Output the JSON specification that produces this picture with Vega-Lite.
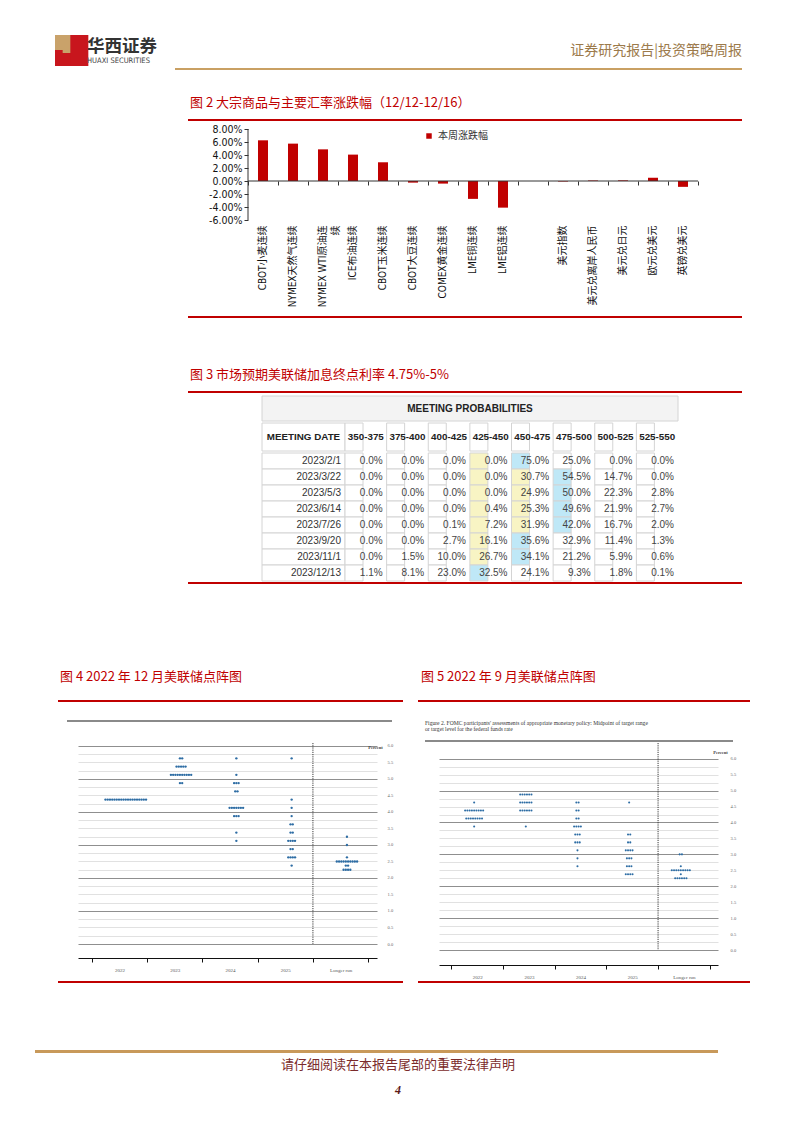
{
"$schema":"https://vega.github.io/schema/vega-lite/v6.json",
"background":"white",
"padding":0,
"spacing":0,
"config":{"view":{"stroke":null},"font":"Noto Sans CJK SC","concat":{"spacing":0}},
"resolve":{"scale":{"color":"independent","fill":"independent"},"legend":{"color":"independent","fill":"independent"}},
"vconcat":[
{"width":1,"height":35,"data":{"values":[]},"mark":"point"},
{"hconcat":[
 {"width":55,"height":33,"data":{"values":[]},"mark":"point"},
 {"width":23,"height":31,"data":{"values":[{"c":"a","k":"red","v":16,"o":1},{"c":"a","k":"gold","v":15,"o":2},{"c":"b","k":"none","v":13,"o":1},{"c":"b","k":"gold","v":6,"o":2},{"c":"c","k":"red","v":31,"o":1}]},
  "mark":{"type":"bar"},
  "encoding":{"x":{"field":"c","type":"nominal","axis":null,"scale":{"paddingInner":0,"paddingOuter":0}},
   "y":{"field":"v","type":"quantitative","stack":"zero","axis":null,"scale":{"domain":[0,31],"nice":false}},
   "color":{"field":"k","type":"nominal","legend":null,"scale":{"domain":["red","gold","none"],"range":["#c8161d","#c9a26a","rgba(255,255,255,0)"]}},
   "order":{"field":"o"}}},
 {"width":9,"height":0,"data":{"values":[]},"mark":"point"},
 {"width":655,"height":33,"layer":[
  {"data":{"values":[{"t":"华西证券"}]},"mark":{"type":"text","align":"left","baseline":"middle","fontSize":17.5,"fontWeight":"bold","color":"#333333"},
   "encoding":{"text":{"field":"t"},"x":{"datum":0,"type":"quantitative","scale":{"domain":[0,1]},"axis":null},"y":{"datum":0.636,"type":"quantitative","scale":{"domain":[0,1]},"axis":null}}},
  {"data":{"values":[{"t":"HUAXI SECURITIES"}]},"mark":{"type":"text","align":"left","baseline":"middle","fontSize":7.5,"font":"DejaVu Sans Condensed, sans-serif","color":"#444444"},
   "encoding":{"text":{"field":"t"},"x":{"datum":0,"type":"quantitative","scale":{"domain":[0,1]},"axis":null},"y":{"datum":0.227,"type":"quantitative","scale":{"domain":[0,1]},"axis":null}}},
  {"data":{"values":[{"t":"证券研究报告|投资策略周报"}]},"mark":{"type":"text","align":"right","baseline":"middle","fontSize":14,"color":"#9c7a4b"},
   "encoding":{"text":{"field":"t"},"x":{"datum":1,"type":"quantitative","scale":{"domain":[0,1]},"axis":null},"y":{"datum":0.515,"type":"quantitative","scale":{"domain":[0,1]},"axis":null}}}]}
],"bounds":"flush","spacing":0},
{"hconcat":[{"width":175,"height":26,"data":{"values":[]},"mark":"point"},{"width":567,"height":2,"data":{"values":[{}]},"mark":{"type":"rect","color":"#c9a063"},"encoding":{}}],"bounds":"flush","spacing":0},
{"hconcat":[{"width":190,"height":25,"data":{"values":[]},"mark":"point"},
 {"width":400,"height":18,"data":{"values":[{"t":"图 2 大宗商品与主要汇率涨跌幅（12/12-12/16）"}]},"mark":{"type":"text","align":"left","baseline":"middle","fontSize":13,"color":"#c00000"},
  "encoding":{"text":{"field":"t"},"x":{"datum":0,"type":"quantitative","scale":{"domain":[0,1]},"axis":null},"y":{"datum":0.5,"type":"quantitative","scale":{"domain":[0,1]},"axis":null}}}],"bounds":"flush","spacing":0},
{"hconcat":[{"width":188,"height":3,"data":{"values":[]},"mark":"point"},{"width":554,"height":2,"data":{"values":[{}]},"mark":{"type":"rect","color":"#c00000"},"encoding":{}}],"bounds":"flush","spacing":0},
{"hconcat":[
 {"width":248,"height":194,"data":{"values":[]},"mark":"point"},
 {"width":450,"height":98,
  "data":{"values":[
   {"n":"CBOT小麦连续","v":0.0626,"s":"本周涨跌幅"},
   {"n":"NYMEX天然气连续","v":0.0575,"s":"本周涨跌幅"},
   {"n":"NYMEX WTI原油连续","v":0.0487,"s":"本周涨跌幅"},
   {"n":"ICE布油连续","v":0.0406,"s":"本周涨跌幅"},
   {"n":"CBOT玉米连续","v":0.0288,"s":"本周涨跌幅"},
   {"n":"CBOT大豆连续","v":-0.0025,"s":"本周涨跌幅"},
   {"n":"COMEX黄金连续","v":-0.004,"s":"本周涨跌幅"},
   {"n":"LME铜连续","v":-0.0275,"s":"本周涨跌幅"},
   {"n":"LME铝连续","v":-0.041,"s":"本周涨跌幅"},
   {"n":"美元指数","v":-0.0008,"s":"本周涨跌幅"},
   {"n":"美元兑离岸人民币","v":0.0008,"s":"本周涨跌幅"},
   {"n":"美元兑日元","v":0.001,"s":"本周涨跌幅"},
   {"n":"欧元兑美元","v":0.005,"s":"本周涨跌幅"},
   {"n":"英镑兑美元","v":-0.009,"s":"本周涨跌幅"}]},
  "layer":[
   {"mark":{"type":"bar","size":10},
    "encoding":{
     "x":{"field":"n","type":"nominal","sort":null,"scale":{"domain":["CBOT小麦连续","NYMEX天然气连续","NYMEX WTI原油连续","ICE布油连续","CBOT玉米连续","CBOT大豆连续","COMEX黄金连续","LME铜连续","LME铝连续"," ","美元指数","美元兑离岸人民币","美元兑日元","欧元兑美元","英镑兑美元"],"paddingInner":0,"paddingOuter":0},
      "axis":{"title":null,"domain":false,"ticks":false,"labelAngle":-90,"labelPadding":5,"labelFont":"Liberation Sans Narrow, DejaVu Sans Condensed, Noto Sans CJK SC, sans-serif","labelFontSize":10,"labelColor":"#111111","labelLineHeight":13,"labelLimit":200,
       "labelExpr":"datum.label == 'NYMEX WTI原油连续' ? ['NYMEX WTI原油连', '续'] : datum.label"}},
     "y":{"field":"v","type":"quantitative","stack":null,"scale":{"domain":[-0.06,0.09077],"nice":false},
      "axis":{"title":null,"tickCount":8,"grid":false,"domain":false,"labelOverlap":false,"labelExpr":"replace(format(datum.value, '.2%'), '\u2212', '-')","tickColor":"#333333","tickSize":4,"labelFont":"Liberation Sans Narrow, DejaVu Sans Condensed, sans-serif","labelFontSize":10.5,"labelColor":"#111111","labelPadding":2}},
     "color":{"field":"s","type":"nominal","scale":{"domain":["本周涨跌幅"],"range":["#c00000"]},
      "legend":{"orient":"none","legendX":424,"legendY":9,"title":null,"symbolType":"square","symbolSize":30,"labelFontSize":10,"labelColor":"#333333"}}}},
   {"data":{"values":[{}]},"mark":{"type":"rule","color":"#333333","strokeWidth":1},"encoding":{"y":{"datum":0,"type":"quantitative"}}},
   {"data":{"values":[{}]},"mark":{"type":"rule","color":"#333333","strokeWidth":1},
    "encoding":{"x":{"datum":"CBOT小麦连续","type":"nominal","bandPosition":0,"axis":null},"y":{"datum":-0.06,"type":"quantitative"},"y2":{"datum":0.08}}},
   {"mark":{"type":"bar","size":10,"opacity":0},
    "encoding":{
     "x":{"field":"n","type":"nominal","sort":null,"axis":{"title":null,"orient":"bottom","offset":-39,"labels":false,"domain":false,"tickBand":"extent","tickSize":4,"tickColor":"#333333"}},
     "y":{"field":"v","type":"quantitative","stack":null}}}
  ],
  "resolve":{"axis":{"x":"independent"}}}
],"bounds":"flush","spacing":0},
{"hconcat":[{"width":188,"height":50,"data":{"values":[]},"mark":"point"},{"width":554,"height":2,"data":{"values":[{}]},"mark":{"type":"rect","color":"#c00000"},"encoding":{}}],"bounds":"flush","spacing":0},
{"hconcat":[{"width":190,"height":25,"data":{"values":[]},"mark":"point"},
 {"width":400,"height":18,"data":{"values":[{"t":"图 3 市场预期美联储加息终点利率 4.75%-5%"}]},"mark":{"type":"text","align":"left","baseline":"middle","fontSize":13,"color":"#c00000"},
  "encoding":{"text":{"field":"t"},"x":{"datum":0,"type":"quantitative","scale":{"domain":[0,1]},"axis":null},"y":{"datum":0.5,"type":"quantitative","scale":{"domain":[0,1]},"axis":null}}}],"bounds":"flush","spacing":0},
{"hconcat":[{"width":188,"height":4,"data":{"values":[]},"mark":"point"},{"width":554,"height":2,"data":{"values":[{}]},"mark":{"type":"rect","color":"#c00000"},"encoding":{}}],"bounds":"flush","spacing":0},
{"hconcat":[{"width":262,"height":25,"data":{"values":[]},"mark":"point"},
 {"width":416,"height":25,"data":{"values":[{"t":"MEETING PROBABILITIES"}]},"layer":[
  {"mark":{"type":"rect","fill":"#f3f3f3","stroke":"#d4d4d4","strokeWidth":1},"encoding":{}},
  {"mark":{"type":"text","font":"Liberation Sans, Arial, sans-serif","fontWeight":"bold","fontSize":10,"color":"#222222","align":"center","baseline":"middle"},
   "encoding":{"text":{"field":"t"},"x":{"datum":0.5,"type":"quantitative","scale":{"domain":[0,1]},"axis":null},"y":{"datum":0.5,"type":"quantitative","scale":{"domain":[0,1]},"axis":null}}}]}
],"bounds":"flush","spacing":0},
{"hconcat":[{"width":262,"height":28,"data":{"values":[]},"mark":"point"},
 {"width":83,"height":28,"data":{"values":[{"t":"MEETING DATE"}]},"layer":[
  {"mark":{"type":"rect","fill":"#ffffff","stroke":"#d4d4d4","strokeWidth":1},"encoding":{}},
  {"mark":{"type":"text","font":"Liberation Sans, Arial, sans-serif","fontWeight":"bold","fontSize":9.8,"color":"#222222","align":"center","baseline":"middle"},
   "encoding":{"text":{"field":"t"},"x":{"datum":0.5,"type":"quantitative","scale":{"domain":[0,1]},"axis":null},"y":{"datum":0.5,"type":"quantitative","scale":{"domain":[0,1]},"axis":null}}}]},
 {"width":333,"height":28,"data":{"values":[{"r":"350-375"},{"r":"375-400"},{"r":"400-425"},{"r":"425-450"},{"r":"450-475"},{"r":"475-500"},{"r":"500-525"},{"r":"525-550"}]},"layer":[
  {"mark":{"type":"rect","fill":"#ffffff","stroke":"#d4d4d4","strokeWidth":1},"encoding":{"x":{"field":"r","type":"nominal","sort":null,"axis":null,"scale":{"paddingInner":0,"paddingOuter":0}}}},
  {"mark":{"type":"text","font":"Liberation Sans, Arial, sans-serif","fontWeight":"bold","fontSize":9.8,"color":"#222222","align":"center","baseline":"middle"},
   "encoding":{"text":{"field":"r"},"x":{"field":"r","type":"nominal","sort":null},"y":{"datum":0.5,"type":"quantitative","scale":{"domain":[0,1]},"axis":null}}}]}
],"bounds":"flush","spacing":0},
{"hconcat":[{"width":262,"height":128,"data":{"values":[]},"mark":"point"},
 {"width":83,"height":128,"data":{"values":[{"d":"2023/2/1"},{"d":"2023/3/22"},{"d":"2023/5/3"},{"d":"2023/6/14"},{"d":"2023/7/26"},{"d":"2023/9/20"},{"d":"2023/11/1"},{"d":"2023/12/13"}]},"layer":[
  {"mark":{"type":"rect","fill":"#ffffff","stroke":"#d4d4d4","strokeWidth":1},"encoding":{"y":{"field":"d","type":"nominal","sort":null,"axis":null,"scale":{"paddingInner":0,"paddingOuter":0}}}},
  {"mark":{"type":"text","font":"Liberation Sans, Arial, sans-serif","fontSize":10,"color":"#333333","align":"right","baseline":"middle","dx":-4},
   "encoding":{"text":{"field":"d"},"y":{"field":"d","type":"nominal","sort":null},"x":{"datum":1,"type":"quantitative","scale":{"domain":[0,1]},"axis":null}}}]},
 {"width":333,"height":128,"data":{"values":[
  {"d":"2023/2/1","r":"350-375","p":0,"h":"n"},{"d":"2023/2/1","r":"375-400","p":0,"h":"n"},{"d":"2023/2/1","r":"400-425","p":0,"h":"n"},{"d":"2023/2/1","r":"425-450","p":0,"h":"c"},{"d":"2023/2/1","r":"450-475","p":0.75,"h":"m"},{"d":"2023/2/1","r":"475-500","p":0.25,"h":"n"},{"d":"2023/2/1","r":"500-525","p":0,"h":"n"},{"d":"2023/2/1","r":"525-550","p":0,"h":"n"},
  {"d":"2023/3/22","r":"350-375","p":0,"h":"n"},{"d":"2023/3/22","r":"375-400","p":0,"h":"n"},{"d":"2023/3/22","r":"400-425","p":0,"h":"n"},{"d":"2023/3/22","r":"425-450","p":0,"h":"c"},{"d":"2023/3/22","r":"450-475","p":0.307,"h":"c"},{"d":"2023/3/22","r":"475-500","p":0.545,"h":"m"},{"d":"2023/3/22","r":"500-525","p":0.147,"h":"n"},{"d":"2023/3/22","r":"525-550","p":0,"h":"n"},
  {"d":"2023/5/3","r":"350-375","p":0,"h":"n"},{"d":"2023/5/3","r":"375-400","p":0,"h":"n"},{"d":"2023/5/3","r":"400-425","p":0,"h":"n"},{"d":"2023/5/3","r":"425-450","p":0,"h":"c"},{"d":"2023/5/3","r":"450-475","p":0.249,"h":"c"},{"d":"2023/5/3","r":"475-500","p":0.5,"h":"m"},{"d":"2023/5/3","r":"500-525","p":0.223,"h":"n"},{"d":"2023/5/3","r":"525-550","p":0.028,"h":"n"},
  {"d":"2023/6/14","r":"350-375","p":0,"h":"n"},{"d":"2023/6/14","r":"375-400","p":0,"h":"n"},{"d":"2023/6/14","r":"400-425","p":0,"h":"n"},{"d":"2023/6/14","r":"425-450","p":0.004,"h":"c"},{"d":"2023/6/14","r":"450-475","p":0.253,"h":"c"},{"d":"2023/6/14","r":"475-500","p":0.496,"h":"m"},{"d":"2023/6/14","r":"500-525","p":0.219,"h":"n"},{"d":"2023/6/14","r":"525-550","p":0.027,"h":"n"},
  {"d":"2023/7/26","r":"350-375","p":0,"h":"n"},{"d":"2023/7/26","r":"375-400","p":0,"h":"n"},{"d":"2023/7/26","r":"400-425","p":0.001,"h":"n"},{"d":"2023/7/26","r":"425-450","p":0.072,"h":"c"},{"d":"2023/7/26","r":"450-475","p":0.319,"h":"c"},{"d":"2023/7/26","r":"475-500","p":0.42,"h":"m"},{"d":"2023/7/26","r":"500-525","p":0.167,"h":"n"},{"d":"2023/7/26","r":"525-550","p":0.02,"h":"n"},
  {"d":"2023/9/20","r":"350-375","p":0,"h":"n"},{"d":"2023/9/20","r":"375-400","p":0,"h":"n"},{"d":"2023/9/20","r":"400-425","p":0.027,"h":"n"},{"d":"2023/9/20","r":"425-450","p":0.161,"h":"c"},{"d":"2023/9/20","r":"450-475","p":0.356,"h":"m"},{"d":"2023/9/20","r":"475-500","p":0.329,"h":"n"},{"d":"2023/9/20","r":"500-525","p":0.114,"h":"n"},{"d":"2023/9/20","r":"525-550","p":0.013,"h":"n"},
  {"d":"2023/11/1","r":"350-375","p":0,"h":"n"},{"d":"2023/11/1","r":"375-400","p":0.015,"h":"n"},{"d":"2023/11/1","r":"400-425","p":0.1,"h":"n"},{"d":"2023/11/1","r":"425-450","p":0.267,"h":"c"},{"d":"2023/11/1","r":"450-475","p":0.341,"h":"m"},{"d":"2023/11/1","r":"475-500","p":0.212,"h":"n"},{"d":"2023/11/1","r":"500-525","p":0.059,"h":"n"},{"d":"2023/11/1","r":"525-550","p":0.006,"h":"n"},
  {"d":"2023/12/13","r":"350-375","p":0.011,"h":"n"},{"d":"2023/12/13","r":"375-400","p":0.081,"h":"n"},{"d":"2023/12/13","r":"400-425","p":0.23,"h":"n"},{"d":"2023/12/13","r":"425-450","p":0.325,"h":"m"},{"d":"2023/12/13","r":"450-475","p":0.241,"h":"n"},{"d":"2023/12/13","r":"475-500","p":0.093,"h":"n"},{"d":"2023/12/13","r":"500-525","p":0.018,"h":"n"},{"d":"2023/12/13","r":"525-550","p":0.001,"h":"n"}]},
  "layer":[
   {"mark":{"type":"rect","stroke":"#d4d4d4","strokeWidth":1},
    "encoding":{"x":{"field":"r","type":"nominal","sort":null,"axis":null,"scale":{"paddingInner":0,"paddingOuter":0}},
     "y":{"field":"d","type":"nominal","sort":null,"axis":null,"scale":{"paddingInner":0,"paddingOuter":0}},
     "fill":{"field":"h","type":"nominal","legend":null,"scale":{"domain":["n","c","m"],"range":["#ffffff","#f8f4c4","#bfe8f7"]}}}},
   {"mark":{"type":"text","font":"Liberation Sans, Arial, sans-serif","fontSize":10,"color":"#444444","align":"right","baseline":"middle","dx":-4},
    "encoding":{"text":{"field":"p","type":"quantitative","format":".1%"},"x":{"field":"r","type":"nominal","sort":null,"bandPosition":1},"y":{"field":"d","type":"nominal","sort":null}}}]}
],"bounds":"flush","spacing":0},
{"hconcat":[{"width":188,"height":86,"data":{"values":[]},"mark":"point"},{"width":554,"height":2,"data":{"values":[{}]},"mark":{"type":"rect","color":"#c00000"},"encoding":{}}],"bounds":"flush","spacing":0},
{"hconcat":[
 {"width":60,"height":32,"data":{"values":[]},"mark":"point"},
 {"width":340,"height":18,"data":{"values":[{"t":"图 4 2022 年 12 月美联储点阵图"}]},"mark":{"type":"text","align":"left","baseline":"middle","fontSize":13,"color":"#c00000"},
  "encoding":{"text":{"field":"t"},"x":{"datum":0,"type":"quantitative","scale":{"domain":[0,1]},"axis":null},"y":{"datum":0.5,"type":"quantitative","scale":{"domain":[0,1]},"axis":null}}},
 {"width":21,"height":0,"data":{"values":[]},"mark":"point"},
 {"width":320,"height":18,"data":{"values":[{"t":"图 5 2022 年 9 月美联储点阵图"}]},"mark":{"type":"text","align":"left","baseline":"middle","fontSize":13,"color":"#c00000"},
  "encoding":{"text":{"field":"t"},"x":{"datum":0,"type":"quantitative","scale":{"domain":[0,1]},"axis":null},"y":{"datum":0.5,"type":"quantitative","scale":{"domain":[0,1]},"axis":null}}}
],"bounds":"flush","spacing":0},
{"hconcat":[
 {"width":58,"height":2,"data":{"values":[]},"mark":"point"},
 {"width":345,"height":2,"data":{"values":[{}]},"mark":{"type":"rect","color":"#c00000"},"encoding":{}},
 {"width":15,"height":0,"data":{"values":[]},"mark":"point"},
 {"width":332,"height":2,"data":{"values":[{}]},"mark":{"type":"rect","color":"#c00000"},"encoding":{}}
],"bounds":"flush","spacing":0},
{"hconcat":[
 {"width":67,"height":15,"data":{"values":[]},"mark":"point"},
 {"width":325,"height":2,"data":{"values":[{}]},"mark":{"type":"rect","color":"#8a8a8a"},"encoding":{}},
 {"width":33,"height":0,"data":{"values":[]},"mark":"point"},
 {"width":310,"height":12,"data":{"values":[{"t":["Figure 2.  FOMC participants' assessments of appropriate monetary policy:  Midpoint of target range","or target level for the federal funds rate"]}]},
  "mark":{"type":"text","align":"left","baseline":"top","font":"Liberation Serif","fontSize":5.6,"lineHeight":6,"color":"#333333"},
  "encoding":{"text":{"field":"t"},"x":{"datum":0,"type":"quantitative","scale":{"domain":[0,1]},"axis":null},"y":{"datum":0.95,"type":"quantitative","scale":{"domain":[0,1]},"axis":null}}}
],"bounds":"flush","spacing":0},
{"hconcat":[{"width":425,"height":2,"data":{"values":[]},"mark":"point"},{"width":308,"height":2,"data":{"values":[{}]},"mark":{"type":"rect","color":"#8a8a8a"},"encoding":{}}],"bounds":"flush","spacing":0},
{"hconcat":[
 {"width":78,"height":238,"data":{"values":[]},"mark":"point"},
 {"width":299,"height":201,"layer":[
  {"data":{"values":[
   {"c":"2022","r":4.375,"w":1},{"c":"2022","r":4.375,"w":1},{"c":"2022","r":4.375,"w":1},{"c":"2022","r":4.375,"w":1},{"c":"2022","r":4.375,"w":1},{"c":"2022","r":4.375,"w":1},{"c":"2022","r":4.375,"w":1},{"c":"2022","r":4.375,"w":1},{"c":"2022","r":4.375,"w":1},{"c":"2022","r":4.375,"w":1},{"c":"2022","r":4.375,"w":1},{"c":"2022","r":4.375,"w":1},{"c":"2022","r":4.375,"w":1},{"c":"2022","r":4.375,"w":1},{"c":"2022","r":4.375,"w":1},{"c":"2022","r":4.375,"w":1},{"c":"2022","r":4.375,"w":1},{"c":"2022","r":4.375,"w":1},{"c":"2022","r":4.375,"w":1},
   {"c":"2023","r":5.625,"w":1},{"c":"2023","r":5.625,"w":1},
   {"c":"2023","r":5.375,"w":1},{"c":"2023","r":5.375,"w":1},{"c":"2023","r":5.375,"w":1},{"c":"2023","r":5.375,"w":1},{"c":"2023","r":5.375,"w":1},
   {"c":"2023","r":5.125,"w":1},{"c":"2023","r":5.125,"w":1},{"c":"2023","r":5.125,"w":1},{"c":"2023","r":5.125,"w":1},{"c":"2023","r":5.125,"w":1},{"c":"2023","r":5.125,"w":1},{"c":"2023","r":5.125,"w":1},{"c":"2023","r":5.125,"w":1},{"c":"2023","r":5.125,"w":1},{"c":"2023","r":5.125,"w":1},
   {"c":"2023","r":4.875,"w":1},{"c":"2023","r":4.875,"w":1},
   {"c":"2024","r":5.625,"w":1},
   {"c":"2024","r":5.125,"w":1},
   {"c":"2024","r":4.875,"w":1},{"c":"2024","r":4.875,"w":1},{"c":"2024","r":4.875,"w":1},
   {"c":"2024","r":4.625,"w":1},{"c":"2024","r":4.625,"w":1},
   {"c":"2024","r":4.125,"w":1},{"c":"2024","r":4.125,"w":1},{"c":"2024","r":4.125,"w":1},{"c":"2024","r":4.125,"w":1},{"c":"2024","r":4.125,"w":1},{"c":"2024","r":4.125,"w":1},{"c":"2024","r":4.125,"w":1},
   {"c":"2024","r":3.875,"w":1},{"c":"2024","r":3.875,"w":1},{"c":"2024","r":3.875,"w":1},
   {"c":"2024","r":3.375,"w":1},
   {"c":"2024","r":3.125,"w":1},
   {"c":"2025","r":5.625,"w":1},
   {"c":"2025","r":4.375,"w":1},
   {"c":"2025","r":4.125,"w":1},
   {"c":"2025","r":3.875,"w":1},
   {"c":"2025","r":3.625,"w":1},{"c":"2025","r":3.625,"w":1},
   {"c":"2025","r":3.375,"w":1},{"c":"2025","r":3.375,"w":1},
   {"c":"2025","r":3.125,"w":1},{"c":"2025","r":3.125,"w":1},{"c":"2025","r":3.125,"w":1},{"c":"2025","r":3.125,"w":1},
   {"c":"2025","r":2.875,"w":1},{"c":"2025","r":2.875,"w":1},
   {"c":"2025","r":2.625,"w":1},{"c":"2025","r":2.625,"w":1},{"c":"2025","r":2.625,"w":1},{"c":"2025","r":2.625,"w":1},
   {"c":"2025","r":2.375,"w":1},
   {"c":"Longer run","r":3.25,"w":1},
   {"c":"Longer run","r":3.0,"w":1},
   {"c":"Longer run","r":2.625,"w":1},
   {"c":"Longer run","r":2.5,"w":1},{"c":"Longer run","r":2.5,"w":1},{"c":"Longer run","r":2.5,"w":1},{"c":"Longer run","r":2.5,"w":1},{"c":"Longer run","r":2.5,"w":1},{"c":"Longer run","r":2.5,"w":1},{"c":"Longer run","r":2.5,"w":1},{"c":"Longer run","r":2.5,"w":1},{"c":"Longer run","r":2.5,"w":1},{"c":"Longer run","r":2.5,"w":1},
   {"c":"Longer run","r":2.375,"w":1},{"c":"Longer run","r":2.375,"w":1},
   {"c":"Longer run","r":2.25,"w":1},{"c":"Longer run","r":2.25,"w":1},{"c":"Longer run","r":2.25,"w":1},{"c":"Longer run","r":2.25,"w":1}]},
   "transform":[{"stack":"w","groupby":["c","r"],"offset":"center","as":["x0","x1"]}],
   "mark":{"type":"circle","size":5.5,"color":"#2e6da4","opacity":1},
   "encoding":{
    "x":{"field":"c","type":"nominal","sort":null,"scale":{"domain":["2022","2023","2024","2025","Longer run"],"paddingInner":0,"paddingOuter":0.2035,"align":0.61},
     "axis":{"title":null,"orient":"bottom","offset":14,"domainColor":"#111111","domainWidth":1,"tickBand":"extent","tickColor":"#111111","tickSize":4,"labelAngle":0,"labelFont":"Liberation Serif","labelFontSize":5,"labelColor":"#555555","labelPadding":5}},
    "xOffset":{"field":"x0","type":"quantitative","scale":{"domain":[-0.435,18.435],"nice":false,"zero":false}},
    "y":{"field":"r","type":"quantitative","scale":{"domain":[0,6.09],"nice":false},
     "axis":{"orient":"right","values":[0,0.25,0.5,0.75,1,1.25,1.5,1.75,2,2.25,2.5,2.75,3,3.25,3.5,3.75,4,4.25,4.5,4.75,5,5.25,5.5,5.75,6],"grid":true,
      "gridColor":{"condition":{"test":"datum.value % 1 === 0","value":"#8f8f8f"},"value":"#cdcdcd"},
      "gridWidth":{"condition":{"test":"datum.value % 1 === 0","value":1.1},"value":0.6},
      "domain":false,"ticks":false,"labelOverlap":false,"labelExpr":"datum.value % 0.5 === 0 ? format(datum.value, '.1f') : ''","labelFont":"Liberation Serif","labelFontSize":4.5,"labelColor":"#666666","labelPadding":10,
      "title":"Percent","titleAngle":0,"titleFont":"Liberation Serif","titleFontSize":4.5,"titleFontWeight":"bold","titleColor":"#444444","titleX":-2,"titleY":1,"titleAlign":"center","titleBaseline":"top"}}}},
  {"data":{"values":[{}]},"mark":{"type":"rule","strokeDash":[1.2,1],"color":"#222222","strokeWidth":0.9},
   "encoding":{"x":{"datum":"Longer run","type":"nominal","bandPosition":0}}}
 ]},
 {"width":62,"height":0,"data":{"values":[]},"mark":"point"},
 {"width":279,"height":207,"layer":[
  {"data":{"values":[
   {"c":"2022","r":4.625,"w":1},
   {"c":"2022","r":4.375,"w":1},{"c":"2022","r":4.375,"w":1},{"c":"2022","r":4.375,"w":1},{"c":"2022","r":4.375,"w":1},{"c":"2022","r":4.375,"w":1},{"c":"2022","r":4.375,"w":1},{"c":"2022","r":4.375,"w":1},{"c":"2022","r":4.375,"w":1},{"c":"2022","r":4.375,"w":1},
   {"c":"2022","r":4.125,"w":1},{"c":"2022","r":4.125,"w":1},{"c":"2022","r":4.125,"w":1},{"c":"2022","r":4.125,"w":1},{"c":"2022","r":4.125,"w":1},{"c":"2022","r":4.125,"w":1},{"c":"2022","r":4.125,"w":1},{"c":"2022","r":4.125,"w":1},
   {"c":"2022","r":3.875,"w":1},
   {"c":"2023","r":4.875,"w":1},{"c":"2023","r":4.875,"w":1},{"c":"2023","r":4.875,"w":1},{"c":"2023","r":4.875,"w":1},{"c":"2023","r":4.875,"w":1},{"c":"2023","r":4.875,"w":1},
   {"c":"2023","r":4.625,"w":1},{"c":"2023","r":4.625,"w":1},{"c":"2023","r":4.625,"w":1},{"c":"2023","r":4.625,"w":1},{"c":"2023","r":4.625,"w":1},{"c":"2023","r":4.625,"w":1},
   {"c":"2023","r":4.375,"w":1},{"c":"2023","r":4.375,"w":1},{"c":"2023","r":4.375,"w":1},{"c":"2023","r":4.375,"w":1},{"c":"2023","r":4.375,"w":1},{"c":"2023","r":4.375,"w":1},
   {"c":"2023","r":3.875,"w":1},
   {"c":"2024","r":4.625,"w":1},{"c":"2024","r":4.625,"w":1},
   {"c":"2024","r":4.375,"w":1},{"c":"2024","r":4.375,"w":1},
   {"c":"2024","r":4.125,"w":1},{"c":"2024","r":4.125,"w":1},
   {"c":"2024","r":3.875,"w":1},{"c":"2024","r":3.875,"w":1},{"c":"2024","r":3.875,"w":1},{"c":"2024","r":3.875,"w":1},
   {"c":"2024","r":3.625,"w":1},{"c":"2024","r":3.625,"w":1},{"c":"2024","r":3.625,"w":1},
   {"c":"2024","r":3.375,"w":1},{"c":"2024","r":3.375,"w":1},{"c":"2024","r":3.375,"w":1},
   {"c":"2024","r":3.125,"w":1},
   {"c":"2024","r":2.875,"w":1},
   {"c":"2024","r":2.625,"w":1},
   {"c":"2025","r":4.625,"w":1},
   {"c":"2025","r":3.625,"w":1},{"c":"2025","r":3.625,"w":1},
   {"c":"2025","r":3.375,"w":1},{"c":"2025","r":3.375,"w":1},
   {"c":"2025","r":3.125,"w":1},{"c":"2025","r":3.125,"w":1},{"c":"2025","r":3.125,"w":1},{"c":"2025","r":3.125,"w":1},
   {"c":"2025","r":2.875,"w":1},{"c":"2025","r":2.875,"w":1},{"c":"2025","r":2.875,"w":1},
   {"c":"2025","r":2.625,"w":1},{"c":"2025","r":2.625,"w":1},{"c":"2025","r":2.625,"w":1},
   {"c":"2025","r":2.375,"w":1},{"c":"2025","r":2.375,"w":1},{"c":"2025","r":2.375,"w":1},{"c":"2025","r":2.375,"w":1},
   {"c":"Longer run","r":3.0,"w":1},{"c":"Longer run","r":3.0,"w":1},
   {"c":"Longer run","r":2.625,"w":1},
   {"c":"Longer run","r":2.5,"w":1},{"c":"Longer run","r":2.5,"w":1},{"c":"Longer run","r":2.5,"w":1},{"c":"Longer run","r":2.5,"w":1},{"c":"Longer run","r":2.5,"w":1},{"c":"Longer run","r":2.5,"w":1},{"c":"Longer run","r":2.5,"w":1},{"c":"Longer run","r":2.5,"w":1},{"c":"Longer run","r":2.5,"w":1},
   {"c":"Longer run","r":2.375,"w":1},
   {"c":"Longer run","r":2.25,"w":1},{"c":"Longer run","r":2.25,"w":1},{"c":"Longer run","r":2.25,"w":1},{"c":"Longer run","r":2.25,"w":1},{"c":"Longer run","r":2.25,"w":1},{"c":"Longer run","r":2.25,"w":1}]},
   "transform":[{"stack":"w","groupby":["c","r"],"offset":"center","as":["x0","x1"]}],
   "mark":{"type":"circle","size":4.3,"color":"#2e6da4","opacity":1},
   "encoding":{
    "x":{"field":"c","type":"nominal","sort":null,"scale":{"domain":["2022","2023","2024","2025","Longer run"],"paddingInner":0,"paddingOuter":0.2,"align":0.6},
     "axis":{"title":null,"orient":"bottom","offset":15,"domainColor":"#111111","domainWidth":1,"tickBand":"extent","tickColor":"#111111","tickSize":4,"labelAngle":0,"labelFont":"Liberation Serif","labelFontSize":5,"labelColor":"#555555","labelPadding":5}},
    "xOffset":{"field":"x0","type":"quantitative","scale":{"domain":[-6.09,14.09],"nice":false,"zero":false}},
    "y":{"field":"r","type":"quantitative","scale":{"domain":[0,6.493],"nice":false},
     "axis":{"orient":"right","values":[0,0.25,0.5,0.75,1,1.25,1.5,1.75,2,2.25,2.5,2.75,3,3.25,3.5,3.75,4,4.25,4.5,4.75,5,5.25,5.5,5.75,6],"grid":true,
      "gridColor":{"condition":{"test":"datum.value % 1 === 0","value":"#8f8f8f"},"value":"#cdcdcd"},
      "gridWidth":{"condition":{"test":"datum.value % 1 === 0","value":1.1},"value":0.6},
      "domain":false,"ticks":false,"labelOverlap":false,"labelExpr":"datum.value % 0.5 === 0 ? format(datum.value, '.1f') : ''","labelFont":"Liberation Serif","labelFontSize":4.5,"labelColor":"#666666","labelPadding":12,
      "title":"Percent","titleAngle":0,"titleFont":"Liberation Serif","titleFontSize":4.5,"titleFontWeight":"bold","titleColor":"#444444","titleX":2,"titleY":11,"titleAlign":"center","titleBaseline":"bottom"}}}},
  {"data":{"values":[{}]},"mark":{"type":"rule","strokeDash":[1.2,1],"color":"#222222","strokeWidth":0.9},
   "encoding":{"x":{"datum":"Longer run","type":"nominal","bandPosition":0}}}
 ]}
],"bounds":"flush","spacing":0},
{"hconcat":[
 {"width":58,"height":69,"data":{"values":[]},"mark":"point"},
 {"width":345,"height":2,"data":{"values":[{}]},"mark":{"type":"rect","color":"#c00000"},"encoding":{}},
 {"width":15,"height":0,"data":{"values":[]},"mark":"point"},
 {"width":332,"height":2,"data":{"values":[{}]},"mark":{"type":"rect","color":"#c00000"},"encoding":{}}
],"bounds":"flush","spacing":0},
{"hconcat":[{"width":35,"height":5,"data":{"values":[]},"mark":"point"},{"width":683,"height":3,"data":{"values":[{}]},"mark":{"type":"rect","color":"#c8995a"},"encoding":{}}],"bounds":"flush","spacing":0},
{"width":796,"height":20,"data":{"values":[{"t":"请仔细阅读在本报告尾部的重要法律声明"}]},"mark":{"type":"text","align":"center","baseline":"middle","fontSize":13,"color":"#7b2b2b"},
 "encoding":{"text":{"field":"t"},"x":{"datum":0.5,"type":"quantitative","scale":{"domain":[0,1]},"axis":null},"y":{"datum":0.5,"type":"quantitative","scale":{"domain":[0,1]},"axis":null}}},
{"width":1,"height":5,"data":{"values":[]},"mark":"point"},
{"width":796,"height":20,"data":{"values":[{"t":"4"}]},"mark":{"type":"text","align":"center","baseline":"middle","fontSize":12,"fontWeight":"bold","fontStyle":"italic","font":"Liberation Serif","color":"#5c1a1a"},
 "encoding":{"text":{"field":"t"},"x":{"datum":0.5,"type":"quantitative","scale":{"domain":[0,1]},"axis":null},"y":{"datum":0.5,"type":"quantitative","scale":{"domain":[0,1]},"axis":null}}}
]
}
